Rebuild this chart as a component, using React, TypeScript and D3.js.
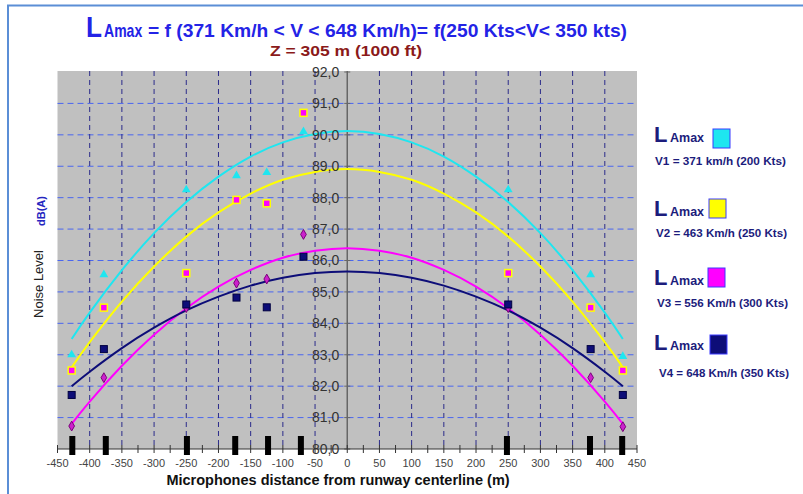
import * as d3 from "d3";

// microphone positions (m) where the measured points sit
const micX = [-428, -378, -250, -172, -125, -68, 250, 378, 428];
// black bars marking the microphones on the ground
const micBars = [-427, -375, -249, -174, -123, -72, 248, 377, 427];

// measured LAmax values dB(A)
const v1Points = [83.0, 85.55, 88.25, 88.7, 88.8, 90.1, 88.25, 85.55, 82.95];
const v2Points = [82.5, 84.5, 85.6, 87.93, 87.82, 90.7, 85.6, 84.5, 82.5];
const v3Points = [80.73, 82.27, 84.5, 85.28, 85.41, 86.83, 84.5, 82.27, 80.71];
const v4Points = [81.72, 83.18, 84.6, 84.82, 84.51, 86.12, 84.6, 83.18, 81.72];

// trend curves
const curveX = [-428, -400, -350, -300, -250, -200, -150, -100, -50, 0, 50, 100, 150, 200, 250, 300, 350, 400, 428];
const v1Curve = [83.5, 84.34, 85.69, 86.87, 87.86, 88.67, 89.31, 89.76, 90.03, 90.12, 90.03, 89.76, 89.31, 88.67, 87.86, 86.87, 85.69, 84.34, 83.5];
const v2Curve = [82.6, 83.4, 84.69, 85.81, 86.76, 87.53, 88.13, 88.57, 88.82, 88.91, 88.82, 88.57, 88.13, 87.53, 86.76, 85.81, 84.69, 83.4, 82.6];
const v3Curve = [80.8, 81.51, 82.65, 83.64, 84.48, 85.17, 85.7, 86.09, 86.31, 86.39, 86.31, 86.09, 85.7, 85.17, 84.48, 83.64, 82.65, 81.51, 80.8];
const v4Curve = [82.0, 82.46, 83.21, 83.86, 84.41, 84.85, 85.2, 85.45, 85.6, 85.65, 85.6, 85.45, 85.2, 84.85, 84.41, 83.86, 83.21, 82.46, 82.0];

const yTicks = [80, 81, 82, 83, 84, 85, 86, 87, 88, 89, 90, 91, 92];
const xTicks = [-450, -400, -350, -300, -250, -200, -150, -100, -50, 0, 50, 100, 150, 200, 250, 300, 350, 400, 450];

const legendLabels = [
  "V1 = 371 km/h (200 Kts)",
  "V2 = 463 Km/h (250 Kts)",
  "V3 = 556 Km/h (300 Kts)",
  "V4 = 648  Km/h (350 Kts)",
];

const CYAN = "#1ee6f0";
const YELLOW = "#ffff00";
const MAGENTA = "#ff00ff";
const NAVY = "#0d0d78";

export default function App() {
  const left = 57.5;
  const right = 637;
  const top = 71;
  const bottom = 449;

  const x = d3.scaleLinear().domain([-450, 450]).range([left, right]);
  const y = d3.scaleLinear().domain([80, 92]).range([bottom, 72]);

  const line = d3
    .line<number>()
    .x((_, i) => x(curveX[i]))
    .y((d) => y(d))
    .curve(d3.curveNatural);

  const fmt = (v: number) => d3.format(".1f")(v).replace(".", ",");
  const minorTicks = d3.range(-450, 451, 25);
  const gridX = d3.range(-400, 401, 50).filter((v) => v !== 0);

  const tri = d3.symbol(d3.symbolTriangle, 34)()!;
  const diamond = d3.symbol(d3.symbolDiamond, 28)()!;

  const legendY = [142, 216, 285, 350];
  const legendColors = [CYAN, YELLOW, MAGENTA, NAVY];
  const swatchX = [713, 709, 708, 710];
  const swatchY = [129, 199, 268, 335];
  const labelY = [165, 237, 307, 377];
  const labelX = [655, 656, 657, 659];
  const labelW = [131, 131, 131, 130];

  return (
    <div style={{ position: "absolute", left: 0, top: 0 }}>
      <svg width={803} height={494} style={{ display: "block", fontFamily: "Liberation Sans, Arial, sans-serif" }}>
        <rect width={803} height={494} fill="#fff" />
        <path d="M8,500 L8,5.5 L810,5.5" fill="none" stroke="#5b8ed6" strokeWidth={2} />

        {/* title: "L" + "Amax" squeezed like a narrow font */}
        <g fill="#2323e6" fontWeight="bold">
          <text transform="translate(86,37) scale(0.87,1)" fontSize={30}>
            L
          </text>
          <text transform="translate(104,37) scale(0.78,1)" fontSize={18}>
            Amax
          </text>
          <text x={148} y={37} fontSize={19} textLength={479} lengthAdjust="spacingAndGlyphs">
            = f (371 Km/h {"<"} V {"<"} 648 Km/h)= f(250 Kts{"<"}V{"<"} 350 kts)
          </text>
        </g>
        <text x={270} y={56} fill="#8b1a1a" fontSize={15} fontWeight="bold" textLength={152} lengthAdjust="spacingAndGlyphs">
          Z = 305 m (1000 ft)
        </text>

        {/* plot area */}
        <rect x={left} y={top} width={right - left} height={bottom - top} fill="#c0c0c0" />
        {yTicks.slice(1, -1).map((t) => (
          <line key={t} x1={left} x2={right} y1={y(t)} y2={y(t)} stroke="#4a66f0" strokeWidth={1} strokeDasharray="6,4" />
        ))}
        {gridX.map((t) => (
          <line key={t} x1={x(t)} x2={x(t)} y1={top} y2={bottom} stroke="#2b2b8a" strokeWidth={1} strokeDasharray="5,4" />
        ))}
        <line x1={x(0)} x2={x(0)} y1={top} y2={bottom} stroke="#666" strokeWidth={1.5} />
        {yTicks.map((t) => (
          <line key={t} x1={x(0) - 3} x2={x(0) + 3} y1={y(t)} y2={y(t)} stroke="#666" />
        ))}

        {/* curves */}
        <path d={line(v1Curve)!} fill="none" stroke={CYAN} strokeWidth={2} />
        <path d={line(v2Curve)!} fill="none" stroke={YELLOW} strokeWidth={2} />
        <path d={line(v3Curve)!} fill="none" stroke={MAGENTA} strokeWidth={2} />
        <path d={line(v4Curve)!} fill="none" stroke={NAVY} strokeWidth={2} />

        {/* markers */}
        {v1Points.map((v, i) => (
          <path key={"a" + i} d={tri} transform={`translate(${x(micX[i])},${y(v)})`} fill={CYAN} />
        ))}
        {v2Points.map((v, i) => (
          <rect key={"b" + i} x={x(micX[i]) - 3.5} y={y(v) - 3.5} width={7} height={7} fill={MAGENTA} stroke={YELLOW} strokeWidth={1.5} />
        ))}
        {v3Points.map((v, i) => (
          <path key={"c" + i} d={diamond} transform={`translate(${x(micX[i])},${y(v)})`} fill="#cc22cc" stroke="#7a007a" strokeWidth={1} />
        ))}
        {v4Points.map((v, i) => (
          <rect key={"d" + i} x={x(micX[i]) - 3.5} y={y(v) - 3.5} width={7} height={7} fill={NAVY} stroke="#000040" strokeWidth={1} />
        ))}

        {/* y tick labels */}
        {yTicks.map((t) => (
          <text key={t} x={x(0) - 8} y={y(t)} dy="0.35em" textAnchor="end" fontSize={14} fill="#333">
            {fmt(t)}
          </text>
        ))}

        {/* x axis */}
        <line x1={left} x2={right} y1={bottom} y2={bottom} stroke="#333" strokeWidth={1} />
        {minorTicks.map((t) => (
          <line key={t} x1={x(t)} x2={x(t)} y1={bottom - 4} y2={bottom + 4} stroke="#333" />
        ))}
        {micBars.map((t, i) => (
          <rect key={i} x={x(t) - 3} y={436} width={6} height={19} fill="#000" />
        ))}
        {xTicks.map((t) => (
          <text key={t} x={x(t)} y={467} textAnchor="middle" fontSize={11} fill="#444">
            {t}
          </text>
        ))}
        <text x={338} y={485} textAnchor="middle" fontSize={14.5} fontWeight="bold" fill="#111">
          Microphones distance from runway centerline (m)
        </text>

        {/* y axis title */}
        <text transform="translate(43,284) rotate(-90)" textAnchor="middle" fontSize={13} fill="#222">
          Noise Level
        </text>
        <text transform="translate(44.5,211) rotate(-90)" textAnchor="middle" fontSize={11} fontWeight="bold" fill="#2525c0">
          dB(A)
        </text>

        {/* legend */}
        {legendLabels.map((label, i) => (
          <g key={i} fill="#1c1c7c" fontWeight="bold">
            <text x={654} y={legendY[i]} fontSize={22}>
              L
            </text>
            <text x={670} y={legendY[i]} fontSize={12.5}>
              Amax
            </text>
            <rect x={swatchX[i]} y={swatchY[i]} width={17} height={19} fill={legendColors[i]} stroke="#3a3aff" strokeWidth={1} />
            <text x={labelX[i]} y={labelY[i]} fontSize={11.5} textLength={labelW[i]} lengthAdjust="spacingAndGlyphs">
              {label}
            </text>
          </g>
        ))}
      </svg>
    </div>
  );
}
